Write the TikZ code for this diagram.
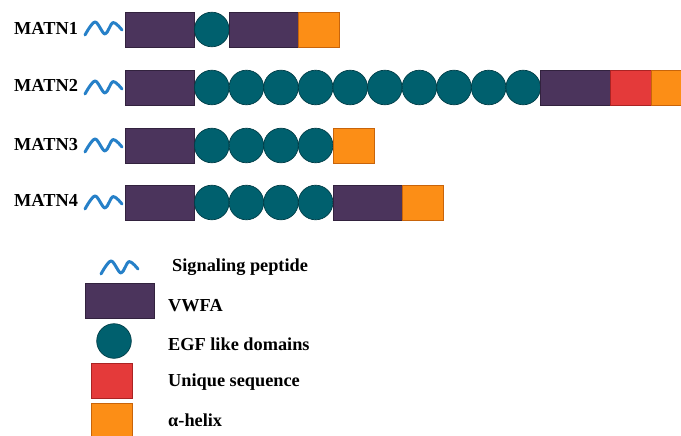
\documentclass[tikz,border=0pt]{standalone}
\usepackage{fontspec}
\setmainfont{Liberation Serif}
\definecolor{vwfaC}{RGB}{75,52,92}
\definecolor{vwfaD}{RGB}{50,34,62}
\definecolor{egfC}{RGB}{0,96,110}
\definecolor{egfD}{RGB}{0,62,72}
\definecolor{uniqC}{RGB}{228,58,58}
\definecolor{uniqD}{RGB}{170,35,35}
\definecolor{helixC}{RGB}{252,142,22}
\definecolor{helixD}{RGB}{200,100,10}
\definecolor{waveC}{RGB}{38,128,200}
\tikzset{
  dom/.style={inner sep=0pt, outer sep=0pt, line width=0.7pt, anchor=west, minimum height=35pt},
  vwfa/.style={dom, draw=vwfaD, fill=vwfaC, minimum width=69.5pt},
  egf/.style={dom, circle, draw=egfD, fill=egfC, minimum size=34.6pt},
  uniq/.style={dom, draw=uniqD, fill=uniqC, minimum width=41pt},
  helix/.style={dom, draw=helixD, fill=helixC, minimum width=41pt},
  lab/.style={font=\fontsize{18.3}{20}\selectfont\bfseries, inner sep=0pt, anchor=base west},
  wave/.pic={\draw[waveC, line width=3pt, line cap=round, line join=round] plot[smooth, tension=0.55] coordinates {(0,0) (10,-13) (20,-1) (28,-12.5) (37,-5)};}
}
\begin{document}
\begin{tikzpicture}[x=1pt,y=-1pt]
\useasboundingbox (0,0) rectangle (681,436);
\clip (0,0) rectangle (681,436);
% MATN1
\node[lab] (l1) at (14,34.5) {MATN1};
\pic at (85,35) {wave};
\node[vwfa] (a1) at (125,29.5) {};
\node[egf] (b1) at (a1.east) {};
\node[vwfa] (c1) at (b1.east) {};
\node[helix] (d1) at (c1.east) {};
% MATN2
\node[lab] (l2) at (14,92) {MATN2};
\pic at (85,94) {wave};
\node[vwfa] (a2) at (125,87.5) {};
\node[egf] (e2-1) at (a2.east) {};
\foreach \i [count=\p from 1] in {2,...,10}{
  \node[egf] (e2-\i) at (e2-\p.east) {};
}
\node[vwfa] (c2) at (e2-10.east) {};
\node[uniq] (u2) at (c2.east) {};
\node[helix] (d2) at (u2.east) {};
% MATN3
\node[lab] (l3) at (14,150) {MATN3};
\pic at (85,152) {wave};
\node[vwfa] (a3) at (125,145.5) {};
\node[egf] (e3-1) at (a3.east) {};
\foreach \i [count=\p from 1] in {2,...,4}{
  \node[egf] (e3-\i) at (e3-\p.east) {};
}
\node[helix] (d3) at (e3-4.east) {};
% MATN4
\node[lab] (l4) at (14,206) {MATN4};
\pic at (85,209) {wave};
\node[vwfa] (a4) at (125,202.5) {};
\node[egf] (e4-1) at (a4.east) {};
\foreach \i [count=\p from 1] in {2,...,4}{
  \node[egf] (e4-\i) at (e4-\p.east) {};
}
\node[vwfa] (c4) at (e4-4.east) {};
\node[helix] (d4) at (c4.east) {};
% legend
\pic at (101,274) {wave};
\node[lab] (t1) at (172,271) {Signaling peptide};
\node[vwfa] (k2) at (85,300.5) {};
\node[lab] (t2) at (168,311) {VWFA};
\node[egf, anchor=center] (k3) at (114,341) {};
\node[lab] (t3) at (168,350) {EGF like domains};
\node[uniq] (k4) at (91,380.5) {};
\node[lab] (t4) at (168,386) {Unique sequence};
\node[helix] (k5) at (91,420.5) {};
\node[lab] (t5) at (168,426) {α-helix};
\end{tikzpicture}
\end{document}
